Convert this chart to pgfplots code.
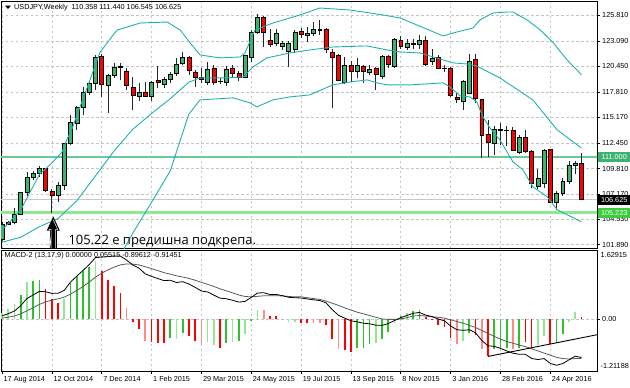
\documentclass[border=0pt]{standalone}
\usepackage{fontspec}
\setmainfont{Liberation Sans}
\newfontfamily\annofont{Open Sans}
\usepackage{pgfplots}
\usepackage{pgfplotstable}
\pgfplotsset{compat=1.18}

\definecolor{bull}{HTML}{3CB371}
\definecolor{bear}{HTML}{FF0000}
\definecolor{bband}{HTML}{20B2AA}
\definecolor{gridc}{HTML}{C4C4C4}
\definecolor{hG}{HTML}{2EC02E}
\definecolor{hLG}{HTML}{90E890}
\definecolor{hR}{HTML}{FF0000}
\definecolor{hLR}{HTML}{FF8A8A}
\definecolor{lvlA}{HTML}{6CC894}
\definecolor{lvlAbox}{HTML}{3CB371}
\definecolor{lvlB}{HTML}{90E890}
\definecolor{lvlBbox}{HTML}{3CCB3C}
\definecolor{pline}{HTML}{C8C8C8}

\newcommand\tfont{\fontsize{7.3}{8}\selectfont}

\pgfplotstableread{
w O H L C
0 102.5 104.3 102.3 104.0
1 104.2 104.4 103.9 104.05
2 104.2 105.7 104.0 105.1
3 105.1 107.4 105.0 107.3
4 107.3 109.5 107.0 108.9
5 108.9 109.6 108.6 109.3
6 109.3 110.1 108.9 109.8
7 109.8 109.9 107.4 107.6
8 107.4 107.7 105.22 107.0
9 107.0 108.4 106.3 108.1
10 108.1 112.5 107.6 112.4
11 112.5 115.4 112.3 114.6
12 114.5 116.3 113.8 116.2
13 116.2 118.3 115.4 117.8
14 117.8 118.9 117.5 118.7
15 118.7 121.6 118.0 121.4
16 121.5 121.8 117.3 118.6
17 118.5 119.7 115.6 119.5
18 119.5 120.8 119.3 120.4
19 120.4 120.8 119.0 120.5
20 120.0 120.3 118.0 118.5
21 118.3 119.4 115.9 117.5
22 117.4 118.7 116.9 117.8
23 117.8 118.8 117.3 117.4
24 117.4 118.9 116.9 118.8
25 119.0 120.5 118.2 118.8
26 118.6 119.4 118.2 119.1
27 119.1 119.9 118.7 119.6
28 119.7 121.3 119.5 120.7
29 120.8 122.0 120.6 121.4
30 121.4 121.5 119.6 120.1
31 119.9 120.1 118.3 119.3
32 119.3 120.3 118.7 119.1
33 118.8 120.9 118.5 120.2
34 120.3 120.6 118.5 118.8
35 118.9 119.3 118.6 118.95
36 118.8 120.5 118.4 120.2
37 120.3 120.6 119.3 119.7
38 119.7 120.0 118.9 119.3
39 119.3 121.6 119.2 121.6
40 121.4 124.2 120.9 124.0
41 124.0 125.9 123.8 125.6
42 125.6 125.7 122.5 124.0
43 123.2 124.4 122.5 122.8
44 122.9 124.4 122.6 123.9
45 122.6 123.1 122.2 122.9
46 122.0 123.1 120.4 122.9
47 122.2 124.3 121.9 124.0
48 124.1 124.5 123.4 123.8
49 123.7 124.6 123.0 123.9
50 123.9 125.1 123.6 124.3
51 124.2 125.3 123.7 124.3
52 124.3 124.5 121.9 122.2
53 121.9 122.3 116.1 121.4
54 121.6 121.7 118.9 119.0
55 118.8 121.4 118.6 120.6
56 120.6 121.0 118.8 120.0
57 120.0 121.3 119.2 120.6
58 120.5 120.6 118.7 120.0
59 119.9 120.6 119.6 120.2
60 120.3 120.4 118.0 119.6
61 119.4 121.6 119.1 121.5
62 121.5 121.6 120.3 120.7
63 120.5 123.4 120.3 123.3
64 123.2 123.6 122.3 122.6
65 122.5 123.3 122.2 122.9
66 122.8 123.3 122.3 122.85
67 122.8 123.7 122.3 123.2
68 123.2 123.6 120.5 120.7
69 121.0 122.3 120.6 121.3
70 121.4 121.6 120.2 120.3
71 120.3 120.6 119.9 120.25
72 120.3 120.4 117.3 117.5
73 117.2 117.7 116.6 117.0
74 116.8 119.0 115.9 118.9
75 117.7 121.7 117.6 121.0
76 121.2 121.7 116.6 117.1
77 117.0 117.1 110.9 113.3
78 113.4 114.9 111.0 112.6
79 112.5 114.2 111.2 113.9
80 113.9 114.6 112.3 113.85
81 113.8 114.3 112.2 113.85
82 113.8 114.1 111.6 111.7
83 111.5 113.3 111.3 113.1
84 113.1 113.8 111.4 111.6
85 111.6 111.7 107.8 108.3
86 108.0 109.8 107.7 108.8
87 108.3 111.9 107.8 111.7
88 111.8 111.9 106.2 106.3
89 106.3 107.5 105.5 107.2
90 107.2 108.8 107.0 108.5
91 108.5 110.6 108.2 110.2
92 110.2 110.6 109.2 110.4
93 110.358 111.44 106.545 106.625
}\candles

\pgfplotstableread{
w p
0 103.4
3 105.5
6 109.2
8 110.4
9.6 111.5
10.4 112.8
11.2 113.9
12.5 116.2
14.1 119.0
15.7 121.9
17.8 123.7
18.5 124.25
22.2 124.98
26.5 125.08
28.6 124.25
30.2 122.9
31.8 121.65
35 121.34
38.2 121.44
39 121.86
40.6 124.25
43.5 124.98
47.8 125.81
51 126.54
55.9 126.33
61.2 125.81
63.9 125.5
66.6 124.77
70.8 123.63
73 124.04
75.6 124.46
76.7 125.29
78.8 126.02
81.1 126.12
82 126.12
84.3 125.29
86.4 124.25
88.5 122.9
90.7 121.13
93 119.6
}\bbup

\pgfplotstableread{
w p
0 102.14
3 102.66
6 103.76
9 104.6
12 106.46
15 109.05
18 111.66
21 113.91
24 115.55
27 117.09
30 118.82
31.8 119.26
36.1 119.26
38.7 119.36
40.3 120.40
42.5 121.34
46.2 121.86
49.4 122.17
53.1 122.48
58.6 122.59
61.8 122.17
63.9 121.96
67.1 121.86
69.2 121.44
72.4 120.82
74.6 120.71
76.2 120.5
79.9 119.26
85.2 116.97
89.1 113.85
93 111.95
}\bbmid

\pgfplotstableread{
w p
0 100.9
3 99.8
6 98.3
9 98.8
12 97.8
15 97.4
18 99.6
21 103.1
24 106.29
27 109.57
30 115.5
31.8 116.97
37.1 117.18
39.8 116.66
40.9 116.24
43.5 116.97
46.2 117.28
49.4 117.49
53.1 118.53
55.9 118.84
58.6 119.05
60.2 118.74
61.8 118.53
65.5 118.53
70.8 118.74
71.9 118.32
73.5 117.39
75.1 117.28
76.2 116.76
77.2 115.2
78.3 114.06
79.9 112.81
82 110.52
83.6 109.69
85.2 107.92
87.5 106.88
89.1 105.53
90.7 105.01
93 104.27
}\bblow

\pgfplotstableread{
w M S
0 0.082 0.030
1 0.134 0.051
2 0.197 0.080
3 0.321 0.128
4 0.491 0.201
5 0.572 0.275
6 0.659 0.352
7 0.648 0.411
8 0.611 0.451
9 0.613 0.483
10 0.683 0.523
11 0.877 0.594
12 1.015 0.678
13 1.149 0.772
14 1.289 0.876
15 1.451 0.991
16 1.462 1.085
17 1.472 1.162
18 1.491 1.228
19 1.487 1.280
20 1.392 1.302
21 1.277 1.297
22 1.201 1.278
23 1.069 1.236
24 1.011 1.191
25 0.958 1.145
26 0.911 1.098
27 0.919 1.062
28 0.866 1.023
29 0.885 0.995
30 0.829 0.962
31 0.753 0.920
32 0.666 0.869
33 0.644 0.824
34 0.570 0.773
35 0.498 0.718
36 0.485 0.672
37 0.449 0.622
38 0.407 0.574
39 0.422 0.538
40 0.516 0.529
41 0.618 0.541
42 0.627 0.554
43 0.584 0.554
44 0.586 0.556
45 0.558 0.551
46 0.519 0.539
47 0.508 0.528
48 0.503 0.53
49 0.48 0.51
50 0.46 0.49
51 0.443 0.47
52 0.39 0.43
53 0.23 0.38
54 0.097 0.33
55 0.03 0.27
56 -0.033 0.22
57 -0.057 0.17
58 -0.09 0.13
59 -0.103 0.09
60 -0.137 0.05
61 -0.14 0.01
62 -0.10 0.0
63 -0.027 0.0
64 0.04 0.01
65 0.092 0.04
66 0.143 0.08
67 0.163 0.09
68 0.10 0.08
69 0.067 0.06
70 0.01 0.05
71 -0.033 0.03
72 -0.153 -0.01
73 -0.243 -0.05
74 -0.257 -0.09
75 -0.243 -0.14
76 -0.313 -0.19
77 -0.493 -0.26
78 -0.62 -0.33
79 -0.633 -0.40
80 -0.68 -0.46
81 -0.74 -0.52
82 -0.793 -0.56
83 -0.82 -0.60
84 -0.82 -0.64
85 -0.917 -0.69
86 -0.943 -0.74
87 -0.92 -0.79
88 -1.033 -0.84
89 -1.077 -0.89
90 -1.037 -0.92
91 -0.95 -0.93
92 -0.863 -0.92
93 -0.896 -0.9145
}\macd

\pgfplotsset{
  mainax/.style={at={(1bp,-248bp)}, anchor=south west, width=596bp, height=247bp,
    scale only axis, xmin=-0.16, xmax=95.5, ymin=101.54, ymax=127.27},
}

\begin{document}
\begin{tikzpicture}
% ---------- main panel: grid, levels, wicks ----------
\begin{axis}[mainax,
  axis line style={black, line width=0.8bp},
  xtick={0,8,...,88}, xticklabel=\empty, xtick style={draw=none},
  ytick={101.89,104.53,107.17,109.81,112.45,115.17,117.81,120.45,123.09,125.81},
  ytick pos=right, yticklabel pos=right,
  tick align=outside, major tick length=3bp,
  ytick style={black, line width=0.6bp},
  yticklabel style={font=\tfont, anchor=west, inner sep=0pt, xshift=2bp},
  /pgf/number format/fixed, /pgf/number format/fixed zerofill,
  /pgf/number format/precision=3, /pgf/number format/assume math mode=true,
  grid=major, grid style={gridc, dash pattern=on 2.5bp off 2.5bp, line width=0.6bp},
]
\addplot[lvlA, line width=1.6bp, forget plot] coordinates {(-5,111) (100,111)};
\addplot[pline, line width=1.1bp, forget plot] coordinates {(-5,106.625) (100,106.625)};
\addplot[lvlB, line width=2.6bp, forget plot] coordinates {(-5,105.223) (100,105.223)};
\addplot[black!85, only marks, mark=*, mark size=0pt, mark options={draw=none, fill=none},
  error bars/.cd, y dir=plus, y explicit, error mark=none,
  error bar style={black!85, line width=0.8bp}]
  table[x=w, y=L, y error expr=\thisrow{H}-\thisrow{L}] {\candles};
\end{axis}
% ---------- candle bodies ----------
\begin{axis}[mainax, hide axis, ybar stacked, bar width=0.64]
\addplot[draw=none, fill=none] table[x=w, y expr={min(\thisrow{O},\thisrow{C})}] {\candles};
\addplot[fill=bull, draw=black, line width=0.5bp] table[x=w, y expr={max(\thisrow{C}-\thisrow{O},0)}] {\candles};
\addplot[fill=bear, draw=black, line width=0.5bp] table[x=w, y expr={max(\thisrow{O}-\thisrow{C},0)}] {\candles};
\end{axis}
% ---------- Bollinger bands ----------
\begin{axis}[mainax, hide axis]
\addplot[bband, line width=0.9bp] table[x=w, y=p] {\bbup};
\addplot[bband, line width=0.9bp] table[x=w, y=p] {\bbmid};
\addplot[bband, line width=0.9bp] table[x=w, y=p] {\bblow};
\end{axis}

% ---------- MACD panel ----------
\begin{axis}[at={(1bp,-371bp)}, anchor=south west, width=596bp, height=121bp,
  scale only axis, xmin=-0.16, xmax=95.5, ymin=-1.21188, ymax=1.62915,
  axis line style={black, line width=0.8bp},
  xtick={0,8,...,88},
  xticklabels={17 Aug 2014,12 Oct 2014,7 Dec 2014,1 Feb 2015,29 Mar 2015,24 May 2015,19 Jul 2015,13 Sep 2015,8 Nov 2015,3 Jan 2016,28 Feb 2016,24 Apr 2016},
  xtick pos=bottom,
  xticklabel style={font=\tfont, anchor=north west, inner sep=0pt, xshift=1.5bp, yshift=-2bp},
  ytick={0}, yticklabels={0.00}, ytick pos=right, yticklabel pos=right,
  yticklabel style={font=\tfont, anchor=west, inner sep=0pt, xshift=2bp},
  tick align=outside, major tick length=3bp, tick style={black, line width=0.6bp},
  grid=major, grid style={gridc, dash pattern=on 2.5bp off 2.5bp, line width=0.6bp},
]
\addplot[ycomb, hLG, line width=1.7bp] coordinates {
(0,0.155) (1,0.25) (2,0.35) (4,0.87) (10,0.48) (15,1.38) (28,-0.47) (33,-0.54) (34,-0.61) (37,-0.52) (39,-0.35) (41,0.23) (46,-0.06) (47,-0.06) (60,-0.56) (63,-0.08) (65,0.155) (74,-0.50) (86,-0.61) (87,-0.39) (91,-0.06) (92,0.17)};
\addplot[ycomb, hG, line width=1.7bp] coordinates {
(3,0.58) (5,0.89) (6,0.92) (11,0.85) (12,1.01) (13,1.13) (14,1.24) (27,-0.43) (29,-0.33) (36,-0.56) (38,-0.50) (40,-0.04) (57,-0.68) (58,-0.66) (59,-0.58) (61,-0.45) (62,-0.30) (64,0.09) (66,0.19) (67,0.22) (75,-0.31) (79,-0.70) (80,-0.66) (81,-0.66) (83,-0.66) (89,-0.56) (90,-0.35)};
\addplot[ycomb, hR, line width=1.7bp] coordinates {
(7,0.71) (8,0.48) (9,0.39) (16,1.13) (17,0.93) (18,0.79) (19,0.62) (21,-0.06) (22,-0.23) (24,-0.54) (25,-0.56) (26,-0.56) (30,-0.40) (31,-0.50) (35,-0.66) (43,0.09) (44,0.09) (48,-0.08) (49,-0.09) (52,-0.12) (53,-0.45) (55,-0.72) (56,-0.76) (68,0.06) (69,0.02) (70,-0.12) (71,-0.19) (72,-0.43) (76,-0.37) (78,-0.87) (84,-0.54) (85,-0.68) (88,-0.58) (93,0.055)};
\addplot[ycomb, hLR, line width=1.7bp] coordinates {
(20,0.27) (23,-0.50) (32,-0.61) (42,0.22) (45,0.02) (50,-0.09) (51,-0.08) (54,-0.70) (73,-0.58) (77,-0.70) (82,-0.70)};
\addplot[black!65, line width=0.8bp] table[x=w, y=S] {\macd};
\addplot[black, line width=0.8bp] table[x=w, y=M] {\macd};
\addplot[black, line width=0.9bp] coordinates {(78,-0.87) (95.5,-0.36)};
\end{axis}

% ---------- texts and markers ----------
\fill[black] (5bp,-5.5bp) -- (11bp,-5.5bp) -- (8bp,-9bp) -- cycle;
\node[font=\tfont, anchor=west, inner sep=0pt] at (14bp,-7.3bp) {USDJPY,Weekly\ \ 110.358 111.440 106.545 106.625};
\node[font=\tfont, anchor=west, inner sep=0pt] at (4.5bp,-256bp) {MACD-2 (13,17,9) 0.00000 0.05515 -0.89612 -0.91451};
\node[font=\tfont, anchor=west, inner sep=0pt] at (600.5bp,-255bp) {1.62915};
\node[font=\tfont, anchor=west, inner sep=0pt] at (600.5bp,-366bp) {-1.21188};

\node[fill=lvlAbox, text=white, font=\tfont, anchor=west, inner sep=0pt, minimum width=32bp, minimum height=10bp] at (598bp,-157.2bp) {111.000};
\node[fill=black, text=white, font=\tfont, anchor=west, inner sep=0pt, minimum width=32bp, minimum height=10bp] at (598bp,-199.5bp) {106.625};
\node[fill=lvlBbox, text=white, font=\tfont, anchor=west, inner sep=0pt, minimum width=32bp, minimum height=10bp] at (598bp,-212.9bp) {105.223};

\fill[black] (53.3bp,-216.5bp) -- (59.8bp,-230.5bp) -- (56.8bp,-230.5bp) -- (56.8bp,-248bp) -- (49.8bp,-248bp) -- (49.8bp,-230.5bp) -- (46.8bp,-230.5bp) -- cycle;
\draw[white, line width=0.5bp] (53.3bp,-219.8bp) -- (57.6bp,-229.3bp) -- (55.6bp,-229.3bp) -- (55.6bp,-248bp) (51bp,-248bp) -- (51bp,-229.3bp) -- (49bp,-229.3bp) -- cycle;
\node[font=\annofont\fontsize{13}{15}\selectfont, anchor=base west, inner sep=0pt] at (68.3bp,-244bp) {105.22 е предишна подкрепа.};

\pgfresetboundingbox
\path[use as bounding box] (0,0) rectangle (630bp,-388bp);
\end{tikzpicture}
\end{document}
